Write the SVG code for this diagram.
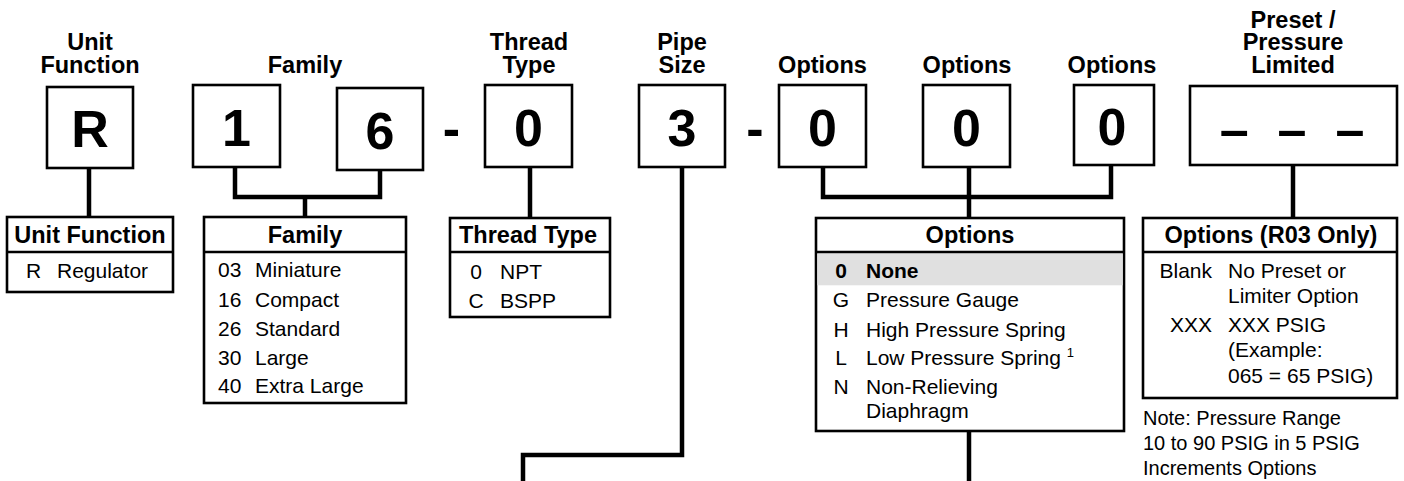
<svg xmlns="http://www.w3.org/2000/svg" width="1404" height="481" viewBox="0 0 1404 481">
<style>
text{font-family:"Liberation Sans",Arial,Helvetica,sans-serif;fill:#000}
.lbl{font-size:23.5px;font-weight:bold;text-anchor:middle}
.dig{font-size:52px;font-weight:bold;text-anchor:middle}
.box{fill:#fff;stroke:#000;stroke-width:2.6}
.tbl{fill:#fff;stroke:#000;stroke-width:2.6}
.div{stroke:#000;stroke-width:2.6}
.hd{font-size:23.5px;font-weight:bold;text-anchor:middle}
.bd{font-size:21px}
.c{text-anchor:middle}
.r{text-anchor:end}
.note{font-size:20px}
.con{fill:none;stroke:#000;stroke-width:4.5;stroke-linejoin:miter;stroke-linecap:butt}
</style>

<g id="connectors">
<path class="con" d="M89,168 V218"/>
<path class="con" d="M235,167 V197 H380 V170"/>
<path class="con" d="M305,197 V218"/>
<path class="con" d="M530,167 V218"/>
<path class="con" d="M682,167 V455 H523 V481"/>
<path class="con" d="M823,167 V197 H1111 V165"/>
<path class="con" d="M969,167 V218"/>
<path class="con" d="M969,431 V481"/>
<path class="con" d="M1293,165 V218"/>
</g>

<g id="code-unit-function">
<text class="lbl" x="90" y="50">Unit</text>
<text class="lbl" x="90" y="73">Function</text>
<rect class="box" x="47" y="87" width="86" height="81"/>
<text class="dig" x="90" y="147">R</text>
</g>

<g id="code-family">
<text class="lbl" x="305" y="73">Family</text>
<rect class="box" x="193" y="85" width="87" height="82"/>
<text class="dig" x="236.5" y="146">1</text>
<rect class="box" x="337" y="88" width="86" height="82"/>
<text class="dig" x="380" y="149">6</text>
</g>

<g id="hyphen-1"><text class="dig" x="451.5" y="146">-</text></g>

<g id="code-thread-type">
<text class="lbl" x="529" y="50">Thread</text>
<text class="lbl" x="529" y="73">Type</text>
<rect class="box" x="485" y="85" width="87" height="82"/>
<text class="dig" x="528.5" y="146">0</text>
</g>

<g id="code-pipe-size">
<text class="lbl" x="682" y="50">Pipe</text>
<text class="lbl" x="682" y="73">Size</text>
<rect class="box" x="639" y="85" width="86" height="82"/>
<text class="dig" x="682" y="146">3</text>
</g>

<g id="hyphen-2"><text class="dig" x="755" y="146">-</text></g>

<g id="code-options-1">
<text class="lbl" x="822.5" y="73">Options</text>
<rect class="box" x="779" y="85" width="87" height="82"/>
<text class="dig" x="822.5" y="146">0</text>
</g>

<g id="code-options-2">
<text class="lbl" x="967" y="73">Options</text>
<rect class="box" x="923" y="85" width="87" height="82"/>
<text class="dig" x="966.5" y="146">0</text>
</g>

<g id="code-options-3">
<text class="lbl" x="1112" y="73">Options</text>
<rect class="box" x="1074" y="85" width="80" height="80"/>
<text class="dig" x="1112" y="145">0</text>
</g>

<g id="code-preset">
<text class="lbl" x="1293" y="27.5">Preset /</text>
<text class="lbl" x="1293" y="50">Pressure</text>
<text class="lbl" x="1293" y="72.5">Limited</text>
<rect class="box" x="1190" y="86" width="207" height="79"/>
<text class="dig" x="1292" y="147" style="word-spacing:14.5px">– – –</text>
</g>

<g id="table-unit-function">
<rect class="tbl" x="7" y="217" width="166" height="75"/>
<line class="div" x1="7" y1="252" x2="173" y2="252"/>
<text class="hd" x="90" y="243">Unit Function</text>
<text class="bd c" x="33.5" y="278">R</text>
<text class="bd" x="57" y="278">Regulator</text>
</g>

<g id="table-family">
<rect class="tbl" x="204" y="217" width="202" height="186"/>
<line class="div" x1="204" y1="252" x2="406" y2="252"/>
<text class="hd" x="305" y="243">Family</text>
<text class="bd" x="218" y="277">03</text><text class="bd" x="255" y="277">Miniature</text>
<text class="bd" x="218" y="307">16</text><text class="bd" x="255" y="307">Compact</text>
<text class="bd" x="218" y="336">26</text><text class="bd" x="255" y="336">Standard</text>
<text class="bd" x="218" y="365">30</text><text class="bd" x="255" y="365">Large</text>
<text class="bd" x="218" y="393">40</text><text class="bd" x="255" y="393">Extra Large</text>
</g>

<g id="table-thread-type">
<rect class="tbl" x="450" y="218" width="160" height="99"/>
<line class="div" x1="450" y1="252" x2="610" y2="252"/>
<text class="hd" x="528" y="243">Thread Type</text>
<text class="bd c" x="476" y="279">0</text><text class="bd" x="500" y="279">NPT</text>
<text class="bd c" x="476" y="308">C</text><text class="bd" x="500" y="308">BSPP</text>
</g>

<g id="table-options">
<rect class="tbl" x="816" y="218" width="308" height="213"/>
<rect x="817.3" y="253.3" width="305.4" height="32" fill="#e0e0e0"/>
<line class="div" x1="816" y1="252" x2="1124" y2="252"/>
<text class="hd" x="970" y="243">Options</text>
<text class="bd c" x="841" y="278" font-weight="bold">0</text><text class="bd" x="866" y="278" font-weight="bold">None</text>
<text class="bd c" x="841" y="307">G</text><text class="bd" x="866" y="307">Pressure Gauge</text>
<text class="bd c" x="841" y="337">H</text><text class="bd" x="866" y="337">High Pressure Spring</text>
<text class="bd c" x="841" y="365">L</text><text class="bd" x="866" y="365">Low Pressure Spring <tspan font-size="13" dy="-8">1</tspan></text>
<text class="bd c" x="841" y="394">N</text><text class="bd" x="866" y="394">Non-Relieving</text>
<text class="bd" x="866" y="418">Diaphragm</text>
</g>

<g id="table-preset">
<rect class="tbl" x="1143" y="218" width="254" height="180"/>
<line class="div" x1="1143" y1="252" x2="1397" y2="252"/>
<text class="hd" x="1271" y="243">Options (R03 Only)</text>
<text class="bd r" x="1212" y="278">Blank</text><text class="bd" x="1228" y="278">No Preset or</text>
<text class="bd" x="1228" y="303">Limiter Option</text>
<text class="bd r" x="1212" y="332">XXX</text><text class="bd" x="1228" y="332">XXX PSIG</text>
<text class="bd" x="1228" y="357">(Example:</text>
<text class="bd" x="1228" y="383">065 = 65 PSIG)</text>
</g>

<g id="note">
<text class="note" x="1143" y="425">Note: Pressure Range</text>
<text class="note" x="1143" y="450">10 to 90 PSIG in 5 PSIG</text>
<text class="note" x="1143" y="475">Increments Options</text>
</g>
</svg>
